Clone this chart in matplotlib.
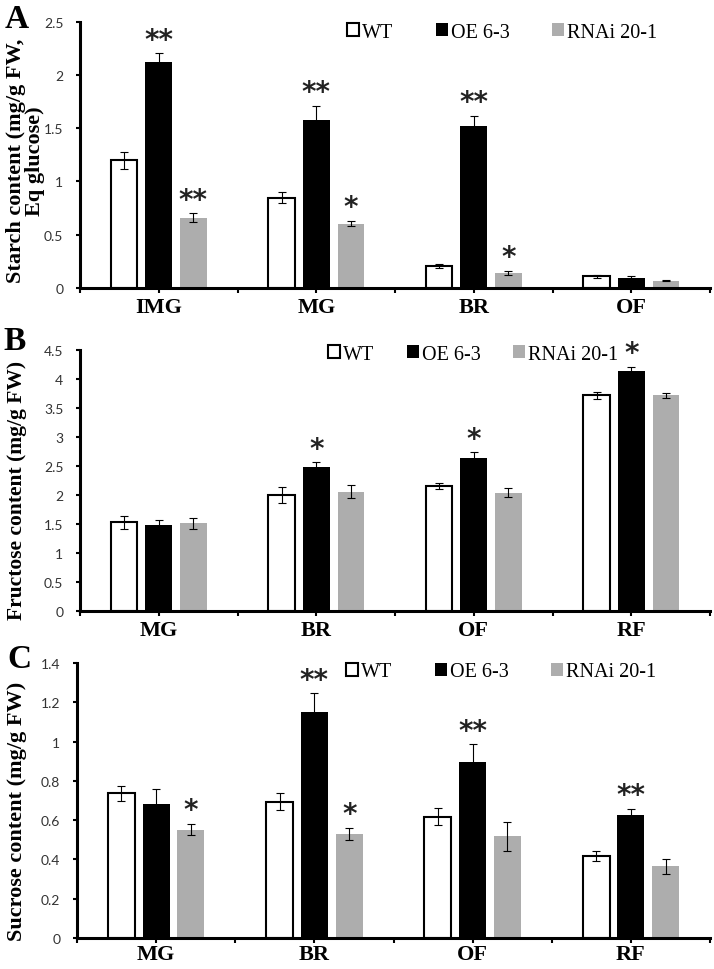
import numpy as np
import matplotlib as mpl
mpl.use('Agg')
import matplotlib.pyplot as plt

# lines compared in every panel
lines = ['WT', 'OE 6-3', 'RNAi 20-1']

# A - starch
starch_cat  = ['IMG', 'MG', 'BR', 'OF']
starch_wt   = [1.20, 0.846, 0.204, 0.110]
starch_wt_e = [0.079, 0.05, 0.02, 0.014]
starch_oe   = [2.12, 1.579, 1.522, 0.098]
starch_oe_e = [0.082, 0.13, 0.096, 0.013]
starch_ri   = [0.66, 0.604, 0.142, 0.069]
starch_ri_e = [0.039, 0.025, 0.022, 0.004]
starch_sig_oe = ['**', '**', '**', '']
starch_sig_ri = ['**', '*', '*', '']

# B - fructose
fruct_cat  = ['MG', 'BR', 'OF', 'RF']
fruct_wt   = [1.53, 2.00, 2.155, 3.718]
fruct_wt_e = [0.11, 0.13, 0.045, 0.057]
fruct_oe   = [1.477, 2.477, 2.63, 4.138]
fruct_oe_e = [0.09, 0.09, 0.11, 0.072]
fruct_ri   = [1.51, 2.057, 2.04, 3.724]
fruct_ri_e = [0.09, 0.115, 0.08, 0.043]
fruct_sig_oe = ['', '*', '*', '*']
fruct_sig_ri = ['', '', '', '']

# C - sucrose
sucr_cat  = ['MG', 'BR', 'OF', 'RF']
sucr_wt   = [0.738, 0.694, 0.618, 0.416]
sucr_wt_e = [0.038, 0.042, 0.042, 0.026]
sucr_oe   = [0.682, 1.149, 0.894, 0.626]
sucr_oe_e = [0.075, 0.097, 0.093, 0.031]
sucr_ri   = [0.552, 0.529, 0.518, 0.365]
sucr_ri_e = [0.03, 0.032, 0.074, 0.038]
sucr_sig_oe = ['', '**', '**', '**']
sucr_sig_ri = ['*', '*', '', '']

W, H = 714, 970
SERIF = 'Liberation Serif'
GRAY = '#adadad'


def px(l, t, r, b):
    # pixel box -> figure fraction rect
    return [l / W, 1 - b / H, (r - l) / W, (b - t) / H]


def panel(fig, rect, cats, vals, errs, sigs, ymax, ystep, xmax, xpad=3):
    ax = fig.add_axes(rect)
    x = np.arange(len(cats))
    off = 0.22
    wd = 0.17
    styles = [
        dict(color='white', edgecolor='black', linewidth=1.5),
        dict(color='black', edgecolor='black', linewidth=0),
        dict(color=GRAY, edgecolor=GRAY, linewidth=0),
    ]
    bars = []
    for i, (v, e, s) in enumerate(zip(vals, errs, styles)):
        xi = x + (i - 1) * off
        b = ax.bar(xi, v, wd, zorder=2, **s)
        bars.append(b)
        ax.errorbar(xi, v, yerr=e, fmt='none', ecolor='black',
                    elinewidth=0.8, capsize=3, capthick=0.8, zorder=3)
    # significance stars
    for i, sig in enumerate(sigs):
        if sig is None:
            continue
        xi = x + (i - 1) * off
        for xx, vv, ee, ss in zip(xi, vals[i], errs[i], sig):
            if ss:
                ax.annotate(ss, (xx, vv + ee), xytext=(0, 4),
                            textcoords='offset points', ha='center',
                            va='baseline', fontsize=20, color='#222222',
                            family='DejaVu Sans', fontweight='bold')

    ax.set_xlim(-0.5, xmax)
    ax.set_ylim(0, ymax)
    ax.set_yticks(np.arange(0, ymax + ystep / 2, ystep))
    ax.yaxis.set_major_formatter(mpl.ticker.FuncFormatter(lambda v, p: f'{v:g}'))
    ax.set_xticks(x)
    ax.set_xticks(np.arange(-0.5, len(cats), 1), minor=True)
    ax.set_xticklabels(cats, family=SERIF, fontweight='bold', fontsize=16)
    for t in ax.get_yticklabels():
        t.set_family('Lato')
        t.set_fontsize(10)
        t.set_color('#333333')

    for sp in ['top', 'right']:
        ax.spines[sp].set_visible(False)
    for sp in ['left', 'bottom']:
        ax.spines[sp].set_linewidth(2.2)
    ax.tick_params(axis='x', which='both', direction='out', length=3.6,
                   width=1.5, pad=xpad)
    ax.tick_params(axis='y', direction='out', length=3, width=1.5, pad=9)
    ax.set_facecolor('none')
    return ax, bars


def legend(fig, bars, xp, yp, colsp):
    fig.legend([b[0] for b in bars], lines, loc='center left',
               bbox_to_anchor=(xp / W, 1 - yp / H), ncol=3, frameon=False,
               prop=dict(family=SERIF, size=14.5), handlelength=0.6,
               handleheight=0.6, handletextpad=0.15, columnspacing=colsp,
               borderpad=0, borderaxespad=0)


fig = plt.figure(figsize=(W / 100, H / 100), dpi=100)

# A
axA, bA = panel(fig, px(80, 22.5, 710, 289), starch_cat,
                [starch_wt, starch_oe, starch_ri],
                [starch_wt_e, starch_oe_e, starch_ri_e],
                [None, starch_sig_oe, starch_sig_ri], 2.5, 0.5, 3.40)
legend(fig, bA, 347, 33, 2.1)
fig.text(25.5 / W, 1 - 161 / H, 'Starch content (mg/g FW,\nEq glucose)',
         rotation=90, ha='center', va='center', multialignment='center',
         linespacing=0.95, family=SERIF, fontweight='bold', fontsize=16)
fig.text(5 / W, 1 - 28 / H, 'A', family=SERIF, fontweight='bold',
         fontsize=24, ha='left', va='baseline')

# B
axB, bB = panel(fig, px(80, 351, 710, 612), fruct_cat,
                [fruct_wt, fruct_oe, fruct_ri],
                [fruct_wt_e, fruct_oe_e, fruct_ri_e],
                [None, fruct_sig_oe, fruct_sig_ri], 4.5, 0.5, 3.40)
legend(fig, bB, 328, 355, 1.6)
fig.text(17 / W, 1 - 490 / H, 'Fructose content (mg/g FW)',
         rotation=90, ha='center', va='center',
         family=SERIF, fontweight='bold', fontsize=15.5)
fig.text(3 / W, 1 - 350 / H, 'B', family=SERIF, fontweight='bold',
         fontsize=24, ha='left', va='baseline')

# C
axC, bC = panel(fig, px(77, 664, 710, 939), sucr_cat,
                [sucr_wt, sucr_oe, sucr_ri],
                [sucr_wt_e, sucr_oe_e, sucr_ri_e],
                [None, sucr_sig_oe, sucr_sig_ri], 1.4, 0.2, 3.41, xpad=1)
legend(fig, bC, 346, 673, 2.1)
fig.text(17 / W, 1 - 811 / H, 'Sucrose content (mg/g FW)',
         rotation=90, ha='center', va='center',
         family=SERIF, fontweight='bold', fontsize=16)
fig.text(7 / W, 1 - 668 / H, 'C', family=SERIF, fontweight='bold',
         fontsize=24, ha='left', va='baseline')

fig.savefig('out.png', dpi=100)
